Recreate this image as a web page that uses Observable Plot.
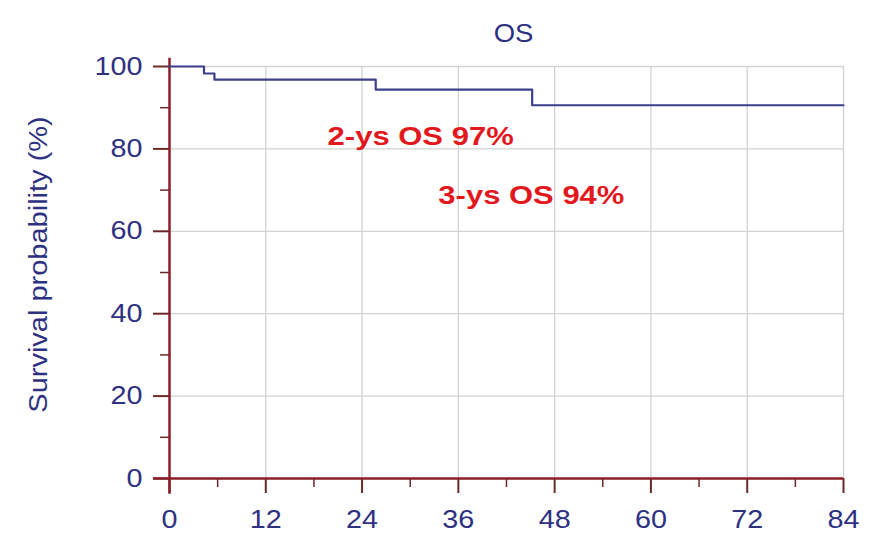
<!DOCTYPE html>
<html>
<head>
<meta charset="utf-8">
<script src="https://cdn.jsdelivr.net/npm/d3@7"></script>
<script src="https://cdn.jsdelivr.net/npm/@observablehq/plot@0.6"></script>
<style>
  html, body { margin: 0; padding: 0; background: #fff; }
  svg { display: block; }
</style>
</head>
<body>
<div id="chart"></div>
<script>
const title = "OS";
const yLabel = "Survival probability (%)";
const months = [0, 4.3, 5.6, 25.7, 45.2, 84];
const survival = [100, 98.3, 96.8, 94.4, 90.6, 90.6];
const xTicks = [0, 12, 24, 36, 48, 60, 72, 84];
const xMinor = [6, 18, 30, 42, 54, 66, 78];
const yTicks = [0, 20, 40, 60, 80, 100];
const yMinor = [10, 30, 50, 70, 90];
const noteLabels = ["2-ys OS 97%", "3-ys OS 94%"];
const noteX = [31.3, 45.1];
const noteY = [83, 68.5];

const navy = "#2e3182";
const maroon = "#8b1e28";
const tickCol = "#6b2a2a";
const curveCol = "#3b3f8c";
const red = "#e2181d";
const font = "Liberation Sans, Arial, sans-serif";

const curve = months.map((m, i) => ({m, s: survival[i]}));
const notes = noteLabels.map((t, i) => ({t, x: noteX[i], y: noteY[i]}));

const chart = Plot.plot({
  width: 869,
  height: 536,
  marginLeft: 169,
  marginRight: 26,
  marginTop: 66,
  marginBottom: 58,
  style: {fontFamily: font, fontSize: "25px", background: "#fff"},
  x: {domain: [0, 84]},
  y: {domain: [0, 100]},
  marks: [
    Plot.gridX(xTicks.filter(d => d > 0), {stroke: "#d2d2d2", strokeOpacity: 1, strokeWidth: 1.3}),
    Plot.gridY(yTicks.filter(d => d > 0), {stroke: "#d2d2d2", strokeOpacity: 1, strokeWidth: 1.3}),
    Plot.axisX({ticks: xMinor, tickSize: 9, tickFormat: () => "", stroke: tickCol, strokeWidth: 1.5, label: null}),
    Plot.axisX({ticks: xTicks, tickSize: 15, tickPadding: 17, tickFormat: d => d, stroke: tickCol, strokeWidth: 2, fill: navy, fontSize: 25, label: null}),
    Plot.axisY({ticks: yMinor, tickSize: 9, tickFormat: () => "", stroke: tickCol, strokeWidth: 1.5, label: null}),
    Plot.axisY({ticks: yTicks, tickSize: 16, tickPadding: 11, tickFormat: d => d, stroke: tickCol, strokeWidth: 2, fill: navy, fontSize: 25, label: null}),
    Plot.ruleY([0], {x1: -2, x2: 84, stroke: maroon, strokeWidth: 2.5}),
    Plot.ruleX([0], {y1: -3.8, y2: 102, stroke: maroon, strokeWidth: 2.5}),
    Plot.line(curve, {x: "m", y: "s", curve: "step-after", stroke: curveCol, strokeWidth: 2.2}),
    Plot.text(notes, {x: "x", y: "y", text: "t", fill: red, fontWeight: "bold", fontSize: 25, textAnchor: "middle"}),
    Plot.text([title], {frameAnchor: "top", dx: 7, dy: -42, fill: navy, fontSize: 25}),
    Plot.text([yLabel], {frameAnchor: "left", textAnchor: "middle", rotate: -90, dx: -131, dy: -8, fill: navy, fontSize: 25})
  ]
});
document.getElementById("chart").append(chart);

// widen glyphs horizontally (along the text direction) about each text's anchor
d3.select(chart).selectAll("text").each(function() {
  const s = this.textContent;
  const k = noteLabels.includes(s) ? 1.24 : s === yLabel ? 1.16 : s === title ? 1.1 : 1.15;
  const t = this.getAttribute("transform") || "";
  const x = +this.getAttribute("x") || 0;
  const y = +this.getAttribute("y") || 0;
  this.setAttribute("transform", `${t} translate(${x},${y}) scale(${k},1) translate(${-x},${-y})`);
});
</script>
</body>
</html>
